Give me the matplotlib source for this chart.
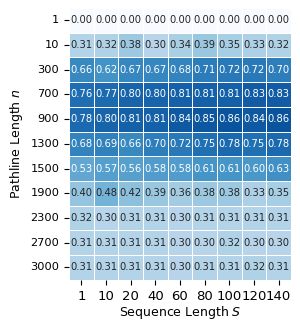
import matplotlib
matplotlib.use("Agg")
import matplotlib.pyplot as plt
import numpy as np
import seaborn as sns

seq_len = ["1", "10", "20", "40", "60", "80", "100", "120", "140"]
path_len = ["1", "10", "300", "700", "900", "1300", "1500", "1900", "2300", "2700", "3000"]

row_1 = [0.00, 0.00, 0.00, 0.00, 0.00, 0.00, 0.00, 0.00, 0.00]
row_10 = [0.31, 0.32, 0.38, 0.30, 0.34, 0.39, 0.35, 0.33, 0.32]
row_300 = [0.66, 0.62, 0.67, 0.67, 0.68, 0.71, 0.72, 0.72, 0.70]
row_700 = [0.76, 0.77, 0.80, 0.80, 0.81, 0.81, 0.81, 0.83, 0.83]
row_900 = [0.78, 0.80, 0.81, 0.81, 0.84, 0.85, 0.86, 0.84, 0.86]
row_1300 = [0.68, 0.69, 0.66, 0.70, 0.72, 0.75, 0.78, 0.75, 0.78]
row_1500 = [0.53, 0.57, 0.56, 0.58, 0.58, 0.61, 0.61, 0.60, 0.63]
row_1900 = [0.40, 0.48, 0.42, 0.39, 0.36, 0.38, 0.38, 0.33, 0.35]
row_2300 = [0.32, 0.30, 0.31, 0.31, 0.30, 0.31, 0.31, 0.31, 0.31]
row_2700 = [0.31, 0.31, 0.31, 0.31, 0.30, 0.30, 0.32, 0.30, 0.30]
row_3000 = [0.31, 0.31, 0.31, 0.31, 0.30, 0.31, 0.31, 0.32, 0.31]

acc = np.array([row_1, row_10, row_300, row_700, row_900, row_1300,
                row_1500, row_1900, row_2300, row_2700, row_3000])

fig = plt.figure(figsize=(3.0, 3.3), dpi=100)
ax = fig.add_axes([0.23, 0.152, 0.74, 0.824])
sns.heatmap(acc, ax=ax, cmap="Blues", vmin=0, vmax=1, annot=True, fmt=".2f",
            cbar=False, linewidths=0.6, linecolor="white",
            annot_kws={"fontsize": 7.2},
            xticklabels=seq_len, yticklabels=path_len)
ax.set_xlabel("Sequence Length $S$", fontsize=9, labelpad=1)
ax.set_ylabel("Pathline Length $n$", fontsize=9)
ax.tick_params(axis="x", labelsize=9.5, rotation=0)
ax.tick_params(axis="y", labelsize=8.2, rotation=0)
fig.savefig("out.png", dpi=100)
